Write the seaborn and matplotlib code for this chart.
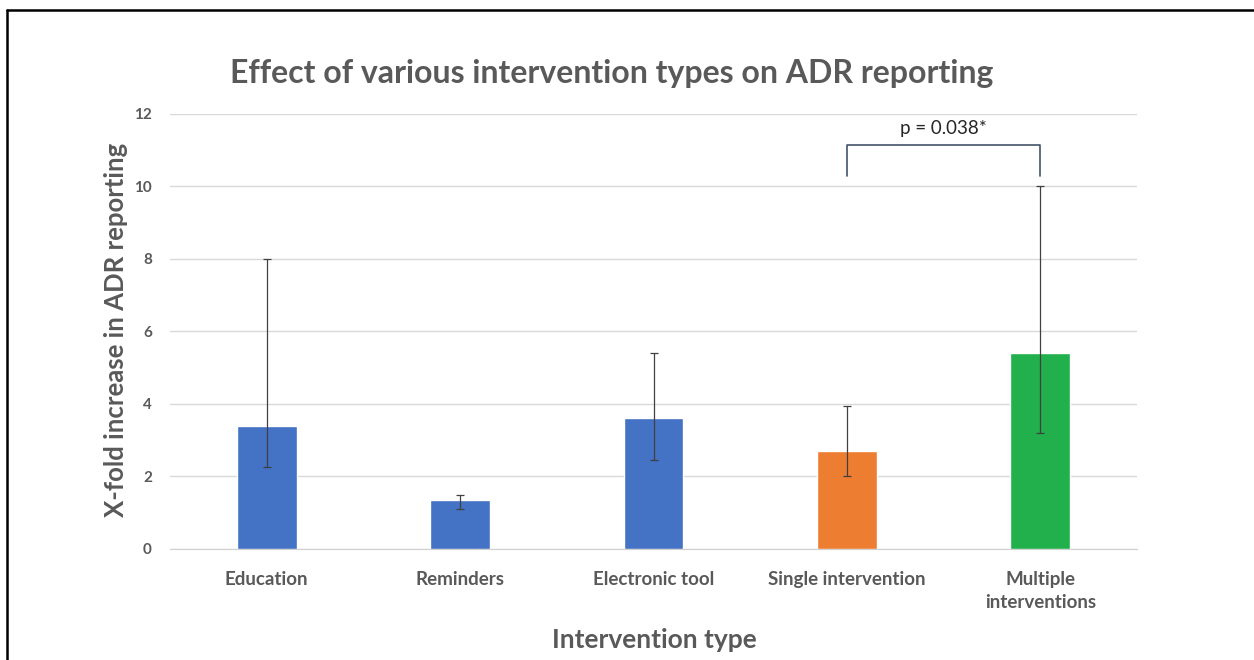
import matplotlib
matplotlib.use("Agg")
import matplotlib.pyplot as plt
import matplotlib.lines as mlines
import pandas as pd
import seaborn as sns

categories = ['Education', 'Reminders', 'Electronic tool', 'Single intervention', 'Multiple\ninterventions']
values = [3.4, 1.35, 3.6, 2.7, 5.4]
err_low = [2.27, 1.1, 2.45, 2.0, 3.2]
err_high = [8.0, 1.5, 5.4, 3.95, 10.0]
colors = ['#4472C4', '#4472C4', '#4472C4', '#ED7D31', '#21B04B']

data = pd.DataFrame({'Type': categories, 'Fold': values})

sns.set_style('white')
plt.rcParams['font.family'] = ['Lato', 'DejaVu Sans']
grey = '#595959'

fig = plt.figure(figsize=(12.54, 6.6), dpi=100)
ax = fig.add_axes([0.1356, 0.1682, 0.7711, 0.6591])

sns.barplot(data=data, x='Type', y='Fold', hue='Type', palette=dict(zip(categories, colors)),
            width=0.31, saturation=1, legend=False, ax=ax, zorder=3)

lower = [v - l for v, l in zip(values, err_low)]
upper = [h - v for v, h in zip(values, err_high)]
ax.errorbar(range(len(categories)), values, yerr=[lower, upper], fmt='none',
            ecolor='#404040', elinewidth=0.9, capsize=3, capthick=0.9, zorder=4)

# significance bracket
ax.plot([3, 3, 4, 4], [10.3, 11.15, 11.15, 10.3], color='#44546A', lw=1.2, clip_on=False, zorder=5)
ax.text(3.5, 11.6, 'p = 0.038*', ha='center', va='center', fontsize=13.5, color='#262626')

ax.set_ylim(0, 12)
ax.set_xlim(-0.5, 4.5)
ax.set_yticks([0, 2, 4, 6, 8, 10, 12])
ax.yaxis.grid(True, color='#D9D9D9', lw=1)
ax.set_axisbelow(True)
for s in ['top', 'right', 'left']:
    ax.spines[s].set_visible(False)
ax.spines['bottom'].set_color('#D0D0D0')
ax.tick_params(axis='y', length=0, pad=13, labelsize=11, labelcolor=grey)
ax.tick_params(axis='x', length=0, pad=16, labelsize=13.5, labelcolor=grey)
for lab in ax.get_xticklabels() + ax.get_yticklabels():
    lab.set_fontweight('bold')
for lab in ax.get_xticklabels():
    lab.set_linespacing(1.4)
ax.set_xlabel('')
ax.set_ylabel('')

fig.text(0.488, 0.888, 'Effect of various intervention types on ADR reporting',
         ha='center', va='center', fontsize=23, fontweight='bold', color=grey)
fig.text(0.0925, 0.5, 'X-fold increase in ADR reporting', rotation=90,
         ha='center', va='center', fontsize=18.5, fontweight='bold', color=grey)
fig.text(0.522, 0.03, 'Intervention type', ha='center', va='center',
         fontsize=19, fontweight='bold', color=grey)

# frame lines along the top and left edge
fig.add_artist(mlines.Line2D([0.0056, 1.0], [0.985, 0.985], color='black', lw=1.8))
fig.add_artist(mlines.Line2D([0.0056, 0.0056], [0.0, 0.985], color='black', lw=1.8))

fig.savefig('out.png', dpi=100)
